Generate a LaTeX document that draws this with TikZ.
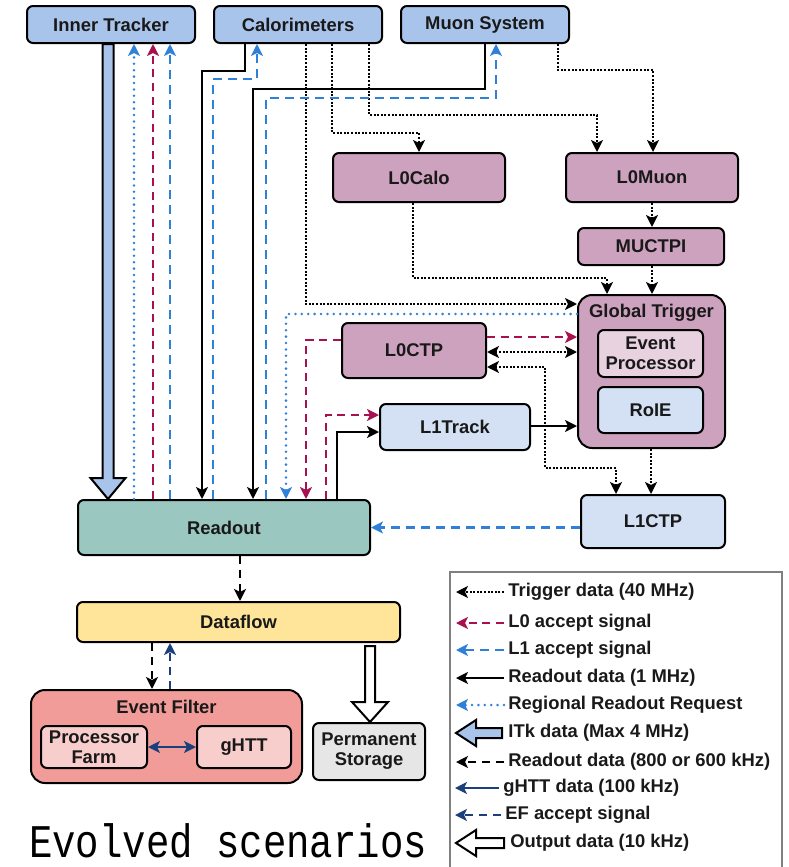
\documentclass[tikz,border=0pt]{standalone}
\usepackage{fontspec}
\setsansfont{Liberation Sans}
\setmonofont{Liberation Mono}
\usetikzlibrary{arrows.meta,calc}

\definecolor{detblue}{HTML}{A9C4EB}
\definecolor{trigpurple}{HTML}{CDA2BE}
\definecolor{eppink}{HTML}{E8D2E0}
\definecolor{paleblue}{HTML}{D4E1F5}
\definecolor{roteal}{HTML}{9AC7BF}
\definecolor{dfyellow}{HTML}{FFE599}
\definecolor{efsalmon}{HTML}{F19C99}
\definecolor{efpink}{HTML}{F8CECC}
\definecolor{psgrey}{HTML}{E6E6E6}
\definecolor{lzero}{HTML}{A8114F}
\definecolor{lone}{HTML}{2F80D8}
\definecolor{navy}{HTML}{1A3F7A}

\tikzset{
  box/.style={draw, line width=1pt, rounded corners=3pt, inner sep=1pt,
    align=center, text=black!90,
    font=\sffamily\bfseries\fontsize{9.2}{10}\selectfont},
  ttl/.style={inner sep=0pt, text=black!90,
    font=\sffamily\bfseries\fontsize{9.2}{10}\selectfont},
  legtxt/.style={anchor=west, inner sep=0pt, text=black!90,
    font=\sffamily\bfseries\fontsize{9.2}{10}\selectfont},
  arr/.style={-{Stealth[length=6pt,width=6pt,inset=1.5pt]}},
  arrboth/.style={{Stealth[length=6pt,width=6pt,inset=1.5pt]}-{Stealth[length=6pt,width=6pt,inset=1.5pt]}},
  trig/.style={line width=1.25pt, dash pattern=on 1pt off 0.8pt},
  lzeroacc/.style={lzero, line width=1.3pt, dash pattern=on 4pt off 2.8pt},
  loneacc/.style={lone, line width=1.3pt, dash pattern=on 4.5pt off 3pt},
  rdo/.style={line width=1pt},
  rrr/.style={lone, line width=1.4pt, line cap=round, dash pattern=on 0pt off 3.2pt},
  rdotwo/.style={line width=1.2pt, dash pattern=on 4pt off 3pt},
  ghttline/.style={navy, line width=1pt},
  efacc/.style={navy, line width=1.2pt, dash pattern=on 4pt off 3pt},
  fatarrow/.style={draw, line width=1pt, line join=miter},
}

\begin{document}
\begin{tikzpicture}[x=0.5pt, y=-0.5pt]
  \useasboundingbox (0,0) rectangle (788,867);

  % detectors
  \node[box, fill=detblue, minimum width=84pt, minimum height=18.5pt] (it) at (111,24.5) {Inner Tracker};
  \node[box, fill=detblue, minimum width=84pt, minimum height=18.5pt] (calo) at (298,24.5) {Calorimeters};
  \node[box, fill=detblue, minimum width=84pt, minimum height=18.5pt] (muon) at (485,24.5) {Muon System};

  % level-0 trigger
  \node[box, fill=trigpurple, minimum width=86pt, minimum height=24.5pt] (lcalo) at (419,177.5) {L0Calo};
  \node[box, fill=trigpurple, minimum width=86pt, minimum height=24.5pt] (lmuon) at (652,177.5) {L0Muon};
  \node[box, fill=trigpurple, minimum width=73pt, minimum height=18.5pt] (muctpi) at (651,246.5) {MUCTPI};
  \node[box, fill=trigpurple, rounded corners=7pt, minimum width=73.5pt, minimum height=76.5pt] (gt) at (651.5,371.5) {};
  \node[ttl] (gttitle) at (651.5,313) {Global Trigger};
  \node[box, fill=eppink, minimum width=52.5pt, minimum height=23.5pt] (ep) at (650.5,353.5) {Event\\Processor};
  \node[box, fill=paleblue, minimum width=52.5pt, minimum height=23pt] (roie) at (650.5,410) {RoIE};
  \node[box, fill=trigpurple, minimum width=72pt, minimum height=27.5pt] (lctp) at (414,350.5) {L0CTP};
  \node[box, fill=paleblue, minimum width=75pt, minimum height=23pt] (ltrack) at (455,427) {L1Track};
  \node[box, fill=paleblue, minimum width=72pt, minimum height=26.5pt] (lonectp) at (653,521.5) {L1CTP};

  % readout and dataflow
  \node[box, fill=roteal, minimum width=146pt, minimum height=27.5pt] (ro) at (224,527.5) {Readout};
  \node[box, fill=dfyellow, minimum width=161.5pt, minimum height=20pt] (df) at (238.5,622) {Dataflow};
  \node[box, fill=efsalmon, rounded corners=7pt, minimum width=135.5pt, minimum height=46.5pt] (ef) at (166.5,736.5) {};
  \node[ttl] (eftitle) at (166.5,707) {Event Filter};
  \node[box, fill=efpink, minimum width=53pt, minimum height=21pt] (pf) at (94,747) {Processor\\Farm};
  \node[box, fill=efpink, minimum width=47pt, minimum height=21pt] (ghtt) at (244,747) {gHTT};
  \node[box, fill=psgrey, minimum width=56pt, minimum height=28.5pt] (ps) at (369,751.5) {Permanent\\Storage};

  % inner tracker links
  \draw[fatarrow, fill=detblue] (102.5,0 |- it.south) -- (113.5,0 |- it.south)
    -- ($(113.5,0 |- ro.north)+(0,-21)$) -- ++(12,0) -- (108,0 |- ro.north)
    -- ($(90.5,0 |- ro.north)+(0,-21)$) -- ++(12,0) -- cycle;
  \draw[rrr, arr] (134,0 |- ro.north) -- (134,0 |- it.south);
  \draw[lzeroacc, arr] (153,0 |- ro.north) -- (153,0 |- it.south);
  \draw[loneacc, arr] (170,0 |- ro.north) -- (170,0 |- it.south);

  % calorimeter links
  \draw[rdo, arr] (245,0 |- calo.south) |- (202,71) -- (202,0 |- ro.north);
  \draw[loneacc, arr] (213,0 |- ro.north) |- (257,79) -- (257,0 |- calo.south);
  \draw[trig, arr] (306,0 |- calo.south) |- (gt.west |- 0,304);
  \draw[trig, arr] (332,0 |- calo.south) |- (419,133) -- (419,0 |- lcalo.north);
  \draw[trig, arr] (369,0 |- calo.south) |- (597,115) -- (597,0 |- lmuon.north);

  % muon links
  \draw[rdo, arr] (485,0 |- muon.south) |- (253,89) -- (253,0 |- ro.north);
  \draw[loneacc, arr] (266,0 |- ro.north) |- (496,98) -- (496,0 |- muon.south);
  \draw[trig, arr] (558,0 |- muon.south) |- (653,70) -- (653,0 |- lmuon.north);

  % trigger chain
  \draw[trig, arr] (652,0 |- lmuon.south) -- (652,0 |- muctpi.north);
  \draw[trig, arr] (652,0 |- muctpi.south) -- (652,0 |- gt.north);
  \draw[trig, arr] (413,0 |- lcalo.south) |- (607,278) -- (607,0 |- gt.north);
  \draw[rrr, arr] (gt.west |- 0,314) -| (286,0 |- ro.north);
  \draw[lzeroacc, arr] (lctp.west |- 0,340) -| (306,0 |- ro.north);
  \draw[lzeroacc, arr] (lctp.east |- 0,337) -- (gt.west |- 0,337);
  \draw[trig, arrboth] (lctp.east |- 0,352) -- (gt.west |- 0,352);
  \draw[trig, arrboth] (lctp.east |- 0,367) -| (545,468) -| (616,0 |- lonectp.north);
  \draw[lzeroacc, arr] (326,0 |- ro.north) |- (ltrack.west |- 0,415);
  \draw[rdo, arr] (337,0 |- ro.north) |- (ltrack.west |- 0,432);
  \draw[rdo, arr] (ltrack.east |- 0,426) -- (gt.west |- 0,426);
  \draw[trig, arr] (651,0 |- gt.south) -- (651,0 |- lonectp.north);
  \draw[loneacc, arr] (lonectp.west |- ro.east) -- (ro.east);

  % dataflow links
  \draw[rdotwo, arr] (240,0 |- ro.south) -- (240,0 |- df.north);
  \draw[rdotwo, arr] (152,0 |- df.south) -- (152,0 |- ef.north);
  \draw[efacc, arr] (170,0 |- ef.north) -- (170,0 |- df.south);
  \draw[ghttline, arrboth] (pf.east) -- (ghtt.west);
  \draw[fatarrow, fill=white] (365,0 |- df.south) ++(0,3) -- ++(10,0)
    -- ($(375,0 |- ps.north)+(0,-20)$) -- ++(13,0) -- (370,0 |- ps.north)
    -- ($(352,0 |- ps.north)+(0,-20)$) -- ++(13,0) -- cycle;

  % legend
  \draw[gray, line width=0.8pt] (450,867) -- (450,572) -- (782,572) -- (782,867);
  \node[legtxt] (kone) at (508,592) {Trigger data (40 MHz)};
  \node[legtxt] (ktwo) at (508,623) {L0 accept signal};
  \node[legtxt] (kthree) at (508,650) {L1 accept signal};
  \node[legtxt] (kfour) at (508,678) {Readout data (1 MHz)};
  \node[legtxt] (kfive) at (508,705) {Regional Readout Request};
  \node[legtxt] (ksix) at (508,733) {ITk data (Max 4 MHz)};
  \node[legtxt] (kseven) at (508,762) {Readout data (800 or 600 kHz)};
  \node[legtxt] (keight) at (503,788) {gHTT data (100 kHz)};
  \node[legtxt] (knine) at (505,815) {EF accept signal};
  \node[legtxt] (kten) at (510,843) {Output data (10 kHz)};

  \draw[trig, arr] ([xshift=-2pt]kone.west) -- ++(-48,0);
  \draw[lzeroacc, arr] ([xshift=-2pt]ktwo.west) -- ++(-48,0);
  \draw[loneacc, arr] ([xshift=-2pt]kthree.west) -- ++(-48,0);
  \draw[rdo, arr] ([xshift=-2pt]kfour.west) -- ++(-48,0);
  \draw[rrr, arr] ([xshift=-2pt]kfive.west) -- ++(-48,0);
  \draw[fatarrow, fill=detblue] ([xshift=-3pt]ksix.west) ++(0,-5) -- ++(-26,0) -- ++(0,-8)
    -- ++(-20,13) -- ++(20,13) -- ++(0,-8) -- ++(26,0) -- cycle;
  \draw[rdotwo, arr] ([xshift=-2pt]kseven.west) -- ++(-48,0);
  \draw[ghttline, arr] ([xshift=-2pt]keight.west) -- ++(-44,0);
  \draw[efacc, arr] ([xshift=-2pt]knine.west) -- ++(-46,0);
  \draw[fatarrow, fill=white] ([xshift=-3pt]kten.west) ++(0,-5) -- ++(-28,0) -- ++(0,-8)
    -- ++(-20,13) -- ++(20,13) -- ++(0,-8) -- ++(28,0) -- cycle;

  % caption
  \node[anchor=base, inner sep=0pt, font=\ttfamily\fontsize{19.5}{22}\selectfont] (caption) at (228,857)
    {\scalebox{1}[1.2]{Evolved scenarios}};
\end{tikzpicture}
\end{document}
